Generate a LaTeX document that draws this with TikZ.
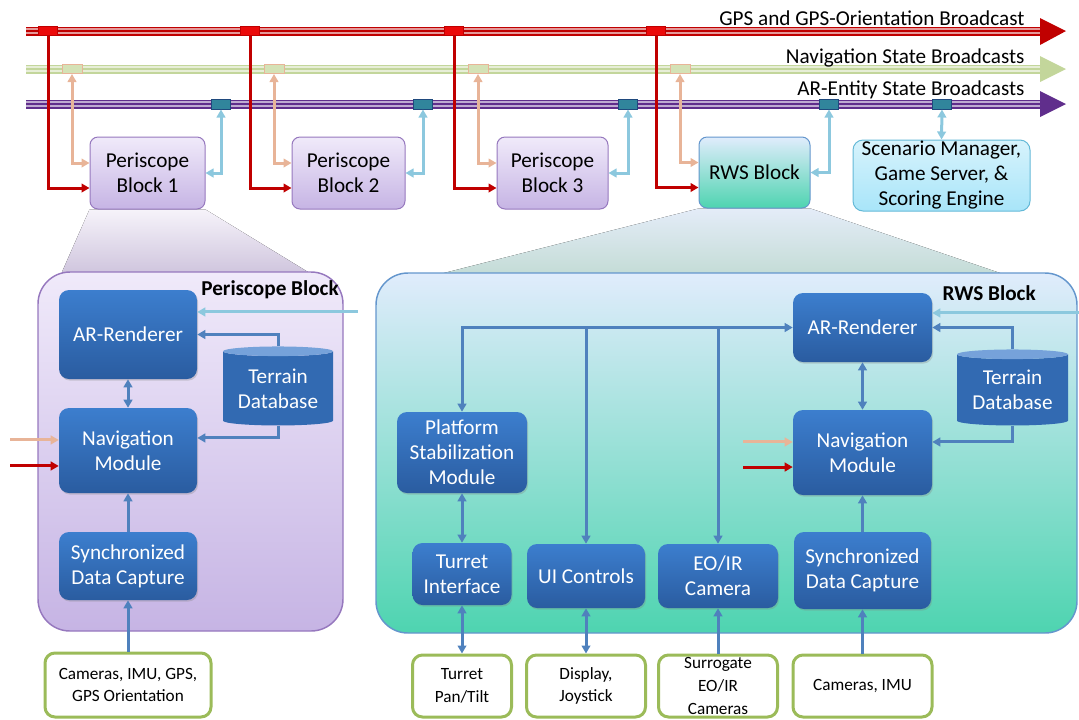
\documentclass[tikz,border=0pt]{standalone}
\usepackage{fontspec}
\setmainfont{Carlito}
\usetikzlibrary{arrows.meta,shapes.geometric,shadows,backgrounds}

\definecolor{gpsred}{RGB}{192,0,0}
\definecolor{gpstap}{RGB}{235,10,10}
\definecolor{navgreen}{RGB}{195,214,155}
\definecolor{navtap}{RGB}{212,226,182}
\definecolor{navline}{RGB}{232,180,152}
\definecolor{arpurple}{RGB}{96,46,140}
\definecolor{artap}{RGB}{49,133,156}
\definecolor{artapbd}{RGB}{31,73,125}
\definecolor{arline}{RGB}{140,200,222}
\definecolor{connblue}{RGB}{79,129,189}
\definecolor{boxtop}{RGB}{60,126,206}
\definecolor{boxbot}{RGB}{42,92,160}
\definecolor{pertop}{RGB}{240,234,250}
\definecolor{perbot}{RGB}{198,180,228}
\definecolor{perbd}{RGB}{150,120,190}
\definecolor{rwstop}{RGB}{224,236,252}
\definecolor{rwsbot}{RGB}{78,212,176}
\definecolor{rwsbd}{RGB}{100,150,205}
\definecolor{scntop}{RGB}{215,243,252}
\definecolor{scnbot}{RGB}{168,229,249}
\definecolor{scnbd}{RGB}{100,185,215}
\definecolor{srcgreen}{RGB}{155,187,89}

\newcommand\mainsz{\fontsize{15.9}{18.75}\selectfont}
\newcommand\srcsz{\fontsize{12.9}{16.9}\selectfont}

\tikzset{every picture/.style={line width=0.75pt}}
\tikzset{
  sz/.style 2 args={minimum width=#1*0.75pt, minimum height=#2*0.75pt, inner sep=0pt},
  box/.style={rounded corners=7.5pt, top color=boxtop, bottom color=boxbot, text=white,
    align=center, font=\mainsz, drop shadow={opacity=0.3, shadow xshift=0.8pt, shadow yshift=-1.2pt}},
  tdb/.style={cylinder, shape border rotate=90, aspect=0.12, cylinder uses custom fill,
    cylinder body fill={rgb,255:red,50;green,106;blue,178}, cylinder end fill={rgb,255:red,118;green,162;blue,218},
    text=white, align=center, font=\mainsz},
  blk/.style={draw=perbd, top color=pertop, bottom color=perbot, rounded corners=6pt, align=center, font=\mainsz},
  rwsblk/.style={draw=rwsbd, top color=rwstop, bottom color=rwsbot, rounded corners=6pt, align=center, font=\mainsz},
  scen/.style={draw=scnbd, top color=scntop, bottom color=scnbot, rounded corners=7.5pt, align=center, font=\mainsz},
  src/.style={draw=srcgreen, line width=2.25pt, fill=white, rounded corners=7.5pt, align=center, font=\srcsz},
  gtap/.style={draw=gpsred, fill=gpstap, sz={19}{9}},
  ntap/.style={draw=navline, fill=navtap, sz={20}{9}},
  atap/.style={draw=artapbd, fill=artap, sz={19}{10}},
  conn/.style={draw=connblue, line width=2.25pt},
  gpsln/.style={draw=gpsred, line width=2.25pt},
  navln/.style={draw=navline, line width=2.25pt},
  arln/.style={draw=arline, line width=2.25pt},
}

\begin{document}
\begin{tikzpicture}[x=0.75pt,y=0.75pt,yscale=-1,xscale=1,>={Triangle[length=6pt,width=6.5pt]}]
\useasboundingbox (0,0) rectangle (1079,719);

%Broadcast buses
\draw [line width=6.75pt, gpsred] (26,31) -- (1041,31) ;
\draw [line width=0.9pt, white, opacity=0.6] (26,29) -- (1041,29) (26,33) -- (1041,33) ;
\fill [gpsred] (1040,18) -- (1066,31) -- (1040,45) -- cycle ;
\draw [line width=6.75pt, navgreen] (26,69) -- (1041,69) ;
\draw [line width=0.9pt, white, opacity=0.6] (26,67) -- (1041,67) (26,71) -- (1041,71) ;
\fill [navgreen] (1040,56) -- (1066,69) -- (1040,82) -- cycle ;
\draw [line width=6.75pt, arpurple] (26,104) -- (1041,104) ;
\draw [line width=0.9pt, white, opacity=0.6] (26,102) -- (1041,102) (26,106) -- (1041,106) ;
\fill [arpurple] (1040,91) -- (1066,104) -- (1040,117) -- cycle ;

% Bus labels
\draw (1025,25) node [anchor=base east][inner sep=0pt][font=\mainsz] {GPS and GPS-Orientation Broadcast};
\draw (1025,63) node [anchor=base east][inner sep=0pt][font=\mainsz] {Navigation State Broadcasts};
\draw (1025,95) node [anchor=base east][inner sep=0pt][font=\mainsz] {AR-Entity State Broadcasts};

% Taps
\foreach \x [count=\i] in {48,250,454,656} \node [gtap] (rt\i) at (\x,31) {};
\foreach \x [count=\i] in {72,274,478,680} \node [ntap] (nt\i) at (\x,69) {};
\foreach \x [count=\i] in {221,423,628,829,942} \node [atap] (at\i) at (\x,104) {};

% Top blocks
\node [blk, sz={115}{72}] (pb1) at (147.5,173) {Periscope\\Block 1};
\node [blk, sz={113}{72}] (pb2) at (348.5,173) {Periscope\\Block 2};
\node [blk, sz={111}{72}] (pb3) at (552.5,173) {Periscope\\Block 3};
\node [rwsblk, sz={111}{71}] (rwsb) at (754.5,172.5) {RWS Block};
\node [scen, sz={177}{71}] (scm) at (941.5,175.5) {Scenario Manager,\\Game Server, \&\\Scoring Engine};

% Bus connections
\foreach \i in {1,2,3} {
  \draw [gpsln,->] (rt\i.south) |- ([yshift=11.25pt]pb\i.west) ;
  \draw [navln,<->] (nt\i.south) |- ([yshift=-7.5pt]pb\i.west) ;
  \draw [arln,<->] (at\i.south) |- (pb\i.east) ;
}
\draw [gpsln,->] (rt4.south) |- ([yshift=11.25pt]rwsb.west) ;
\draw [navln,<->] (nt4.south) |- ([yshift=-7.5pt]rwsb.west) ;
\draw [arln,<->] (at4.south) |- (rwsb.east) ;
\draw [arln,<->] (at5.south) -- (scm.north) ;

% Expansion funnels
\begin{pgfonlayer}{background}
\fill [top color={rgb,255:red,246;green,243;blue,250}, bottom color={rgb,255:red,208;green,198;blue,222}] (pb1.south west) -- (pb1.south east) -- (308,272) -- (62,272) -- cycle ;
\fill [top color={rgb,255:red,228;green,236;blue,248}, bottom color={rgb,255:red,196;green,220;blue,214}] (rwsb.south west) -- (rwsb.south east) -- (1003,274) -- (440,274) -- cycle ;
\end{pgfonlayer}

% Periscope panel
\draw [draw=perbd, line width=1.1pt, top color=pertop, bottom color=perbot, rounded corners=24pt] (38,272) rectangle (343,631) ;
\draw (339,290) node [anchor=east][inner sep=0pt][font=\mainsz\bfseries] {Periscope Block};
\node [box, sz={138}{89}] (ar1) at (128,334.5) {AR-Renderer};
\node [tdb, sz={110}{79}] (tdb1) at (278,388.5) {Terrain\\Database};
\node [box, sz={138}{85}] (nav1) at (128,450.5) {Navigation\\Module};
\node [box, sz={138}{68}] (sdc1) at (128,566) {Synchronized\\Data Capture};
\node [src, sz={166}{64}] (cam1) at (128,685) {Cameras, IMU, GPS,\\GPS Orientation};

\draw [conn,<->] (ar1.south) -- (nav1.north) ;
\draw [conn,->] (sdc1.north) -- (nav1.south) ;
\draw [conn,->] (cam1.north) -- (sdc1.south) ;
\draw [conn,->] (tdb1.north) |- (ar1.east) ;
\draw [conn,->] (tdb1.south) |- ([yshift=-9.4pt]nav1.east) ;
\draw [arln,<-] ([yshift=-16.9pt]ar1.east) -- ++(161,0) ;
\draw [navln,<-] ([yshift=-7.9pt]nav1.west) -- ++(-49,0) ;
\draw [gpsln,<-] ([yshift=11.6pt]nav1.west) -- ++(-49,0) ;

% RWS panel
\draw [draw=rwsbd, line width=1.1pt, top color=rwstop, bottom color=rwsbot, rounded corners=24pt] (376,273) rectangle (1077,633) ;
\draw (1036,293) node [anchor=east][inner sep=0pt][font=\mainsz\bfseries] {RWS Block};
\node [box, sz={139}{69}] (ar2) at (862.5,327.5) {AR-Renderer};
\node [tdb, sz={111}{76}] (tdb2) at (1012.5,390) {Terrain\\Database};
\node [box, sz={139}{85}] (nav2) at (862.5,452.5) {Navigation\\Module};
\node [box, sz={137}{77}] (sdc2) at (862.5,570.5) {Synchronized\\Data Capture};
\node [box, sz={130}{81}] (psm) at (462,452.5) {Platform\\Stabilization\\Module};
\node [box, sz={99}{62}] (ti) at (462,574) {Turret\\Interface};
\node [box, sz={118}{64}] (uic) at (586,576) {UI Controls};
\node [box, sz={120}{64}] (eoc) at (718,576) {EO/IR\\Camera};
\node [src, sz={99}{62}] (tpt) at (462,686) {Turret\\Pan/Tilt};
\node [src, sz={119}{62}] (dsp) at (586,686) {Display,\\Joystick};
\node [src, sz={119}{62}] (sur) at (718,686) {Surrogate\\EO/IR\\Cameras};
\node [src, sz={139}{62}] (cam2) at (862.5,686) {Cameras, IMU};

\draw [conn,<->] (ar2.south) -- (nav2.north) ;
\draw [conn,->] (sdc2.north) -- (nav2.south) ;
\draw [conn,->] (cam2.north) -- (sdc2.south) ;
\draw [conn,->] (tdb2.north) |- (ar2.east) ;
\draw [conn,->] (tdb2.south) |- ([yshift=-7.9pt]nav2.east) ;
\draw [arln,<-] ([yshift=-10.9pt]ar2.east) -- ++(147,0) ;
\draw [navln,<-] ([yshift=-7.9pt]nav2.west) -- ++(-50,0) ;
\draw [gpsln,<-] ([yshift=10.9pt]nav2.west) -- ++(-50,0) ;
\draw [conn,<->] (psm.north) |- (ar2.west) ;
\draw [conn,->] (uic.north |- ar2.west) -- (uic.north) ;
\draw [conn,->] (eoc.north |- ar2.west) -- (eoc.north) ;
\draw [conn,<->] (psm.south) -- (ti.north) ;
\draw [conn,<->] (ti.south) -- (tpt.north) ;
\draw [conn,<->] (uic.south) -- (dsp.north) ;
\draw [conn,->] (sur.north) -- (eoc.south) ;

\end{tikzpicture}
\end{document}
